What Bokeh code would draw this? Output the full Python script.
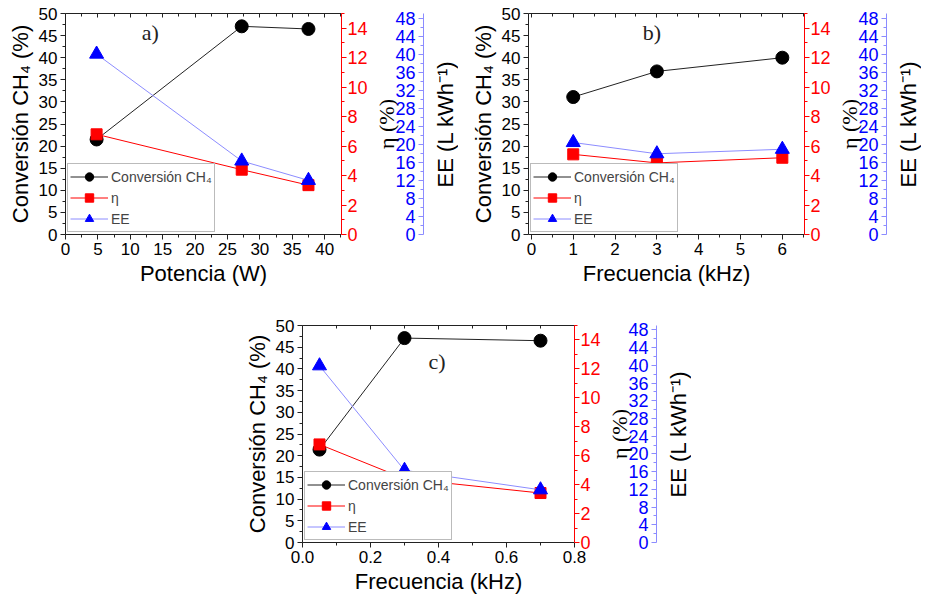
from bokeh.plotting import figure
from bokeh.layouts import column, row
from bokeh.models import (Spacer, Range1d, LinearAxis, FixedTicker, Label,
                          Legend, LegendItem, NumeralTickFormatter,
                          CustomJSTickFormatter)
from bokeh.embed import file_html
from bokeh.resources import INLINE

# ---------------- data ----------------
# a) Potencia (W)
pot_w = [4.8, 27.2, 37.5]
conv_a = [21.5, 47.1, 46.5]
eta_a = [6.8, 4.4, 3.35]
ee_a = [40.0, 16.3, 12.0]

# b) Frecuencia (kHz)
freq_b = [1.0, 3.0, 6.0]
conv_b = [31.1, 36.9, 40.0]
eta_b = [5.44, 4.86, 5.21]
ee_b = [20.4, 17.9, 18.9]

# c) Frecuencia (kHz)
freq_c = [0.05, 0.3, 0.7]
conv_c = [21.4, 47.1, 46.5]
eta_c = [6.78, 4.41, 3.42]
ee_c = [39.9, 16.3, 11.9]

conv_ticks = list(range(0, 51, 5))
eta_ticks = list(range(0, 15, 2))
ee_ticks = list(range(0, 49, 4))

SANS = "Liberation Sans"
SERIF = "Liberation Serif"
BLUE_LINE = "#8c8cff"
EE_MAX = 49


def style_axis(ax, line_color, label_color, font_size):
    ax.axis_line_color = line_color
    ax.major_tick_line_color = line_color
    ax.minor_tick_line_color = line_color
    ax.major_label_text_color = label_color
    ax.major_label_text_font = SANS
    ax.major_label_text_font_size = font_size
    ax.axis_label_text_color = "black"
    ax.axis_label_text_font = SANS
    ax.axis_label_text_font_size = "22px"
    ax.axis_label_text_font_style = "normal"
    ax.major_tick_out = 5
    ax.major_tick_in = 0
    ax.minor_tick_out = 3
    ax.minor_tick_in = 0
    ax.major_label_standoff = 3
    ax.axis_label_standoff = 3


def label_axis(ax, text, font, size, standoff):
    ax.ticker = FixedTicker(ticks=[])
    ax.axis_line_color = None
    ax.major_tick_out = 0
    ax.major_tick_in = 0
    ax.minor_tick_out = 0
    ax.minor_tick_in = 0
    ax.major_label_standoff = 0
    ax.axis_label = text
    ax.axis_label_text_font = font
    ax.axis_label_text_font_size = size
    ax.axis_label_text_font_style = "normal"
    ax.axis_label_text_color = "black"
    ax.axis_label_standoff = standoff


def aux_fig(fh, top, left):
    f = figure(frame_width=1, frame_height=fh, x_range=Range1d(0, 1),
               y_range=Range1d(0, EE_MAX), output_backend="svg",
               toolbar_location=None, x_axis_location=None,
               min_border_left=left, min_border_top=top, min_border_right=0,
               min_border_bottom=12)
    f.outline_line_color = None
    f.grid.visible = False
    return f


def make_panel(x, conv, eta, ee, xr, xticks, xminor, xlabel, tag, tag_xy,
               fw, fh, left, top, xfmt=None):
    p = figure(frame_width=fw, frame_height=fh, x_range=Range1d(*xr),
               y_range=Range1d(0, 50), output_backend="svg",
               toolbar_location=None, min_border_left=left,
               min_border_top=top, min_border_right=0, min_border_bottom=0)
    p.outline_line_color = None
    p.grid.visible = False
    p.extra_y_ranges = {"eta": Range1d(0, 15), "ee": Range1d(0, EE_MAX)}

    # left axis
    ya = p.yaxis[0]
    ya.ticker = FixedTicker(ticks=conv_ticks,
                            minor_ticks=[v + 2.5 for v in conv_ticks[:-1]])
    style_axis(ya, "#222222", "black", "17px")
    ya.axis_label = "Conversión CH₄ (%)"

    # bottom axis
    xa = p.xaxis[0]
    xa.ticker = FixedTicker(ticks=xticks, minor_ticks=xminor)
    style_axis(xa, "#222222", "black", "17px")
    xa.axis_label = xlabel
    if xfmt:
        xa.formatter = NumeralTickFormatter(format=xfmt)

    # top axis (ticks only)
    ta = LinearAxis(ticker=FixedTicker(ticks=xticks, minor_ticks=xminor),
                    formatter=CustomJSTickFormatter(code="return ''"))
    ta.axis_line_color = "#222222"
    ta.major_tick_line_color = "#222222"
    ta.minor_tick_line_color = "#222222"
    ta.major_tick_in = 4
    ta.major_tick_out = 0
    ta.minor_tick_in = 3
    ta.minor_tick_out = 0
    ta.major_label_standoff = 0
    p.add_layout(ta, "above")

    # red axis
    ra = LinearAxis(y_range_name="eta",
                    ticker=FixedTicker(ticks=eta_ticks,
                                       minor_ticks=[v + 1 for v in eta_ticks]))
    style_axis(ra, "red", "red", "18px")
    ra.major_label_standoff = 1
    p.add_layout(ra, "right")

    # series
    l1 = p.line(x, conv, line_color="#222222", line_width=1)
    m1 = p.scatter(x, conv, marker="circle", size=13, fill_color="black",
                   line_color="black")
    l2 = p.line(x, eta, line_color="red", line_width=1, y_range_name="eta")
    m2 = p.scatter(x, eta, marker="square", size=11, fill_color="red",
                   line_color="red", y_range_name="eta")
    l3 = p.line(x, ee, line_color=BLUE_LINE, line_width=1, y_range_name="ee")
    m3 = p.scatter(x, ee, marker="triangle", size=14, fill_color="blue",
                   line_color="blue", y_range_name="ee")

    legend = Legend(items=[
        LegendItem(label="Conversión CH₄", renderers=[l1, m1]),
        LegendItem(label="η", renderers=[l2, m2]),
        LegendItem(label="EE", renderers=[l3, m3]),
    ], location="bottom_left", margin=2, padding=2, spacing=-2,
        label_text_font=SANS, label_text_font_size="14px",
        glyph_width=38, glyph_height=21, label_height=16, label_standoff=3,
        border_line_color="#777777", background_fill_color="white",
        background_fill_alpha=1.0)
    p.add_layout(legend)

    p.add_layout(Label(x=tag_xy[0], y=tag_xy[1], text=tag,
                       text_align="center", text_baseline="middle",
                       text_font=SERIF, text_font_size="22px",
                       text_color="#222222"))

    # η label + blue EE axis
    f1 = aux_fig(fh, top, 0)
    ba = f1.yaxis[0]
    ba.ticker = FixedTicker(ticks=ee_ticks,
                            minor_ticks=[v + 2 for v in ee_ticks[:-1]])
    style_axis(ba, BLUE_LINE, "blue", "18px")
    lab1 = LinearAxis()
    label_axis(lab1, "η (%)", SERIF, "22px", -6)
    f1.add_layout(lab1, "left")

    # EE label
    f2 = aux_fig(fh, top, 33)
    label_axis(f2.yaxis[0], "EE (L kWh⁻¹)", SANS, "22px", 0)

    return [p, f1, f2]


pa = make_panel(pot_w, conv_a, eta_a, ee_a, (0, 42.6),
                list(range(0, 41, 5)), [v + 2.5 for v in range(0, 41, 5)],
                "Potencia (W)", "a)", (13.1, 45.8), 276, 221, 65, 13)
pb = make_panel(freq_b, conv_b, eta_b, ee_b, (-0.07, 6.53),
                list(range(0, 7)), [v + 0.5 for v in range(0, 7)],
                "Frecuencia (kHz)", "b)", (2.88, 45.6), 276, 221, 70, 13)
pc = make_panel(freq_c, conv_c, eta_c, ee_c, (0, 0.8),
                [0, 0.2, 0.4, 0.6, 0.8], [0.1, 0.3, 0.5, 0.7],
                "Frecuencia (kHz)", "c)", (0.396, 41.7), 272, 217, 59, 37,
                xfmt="0.0")

layout = column(row(*pa, *pb),
                row(Spacer(width=241, height=10), *pc))
open("out.html", "w").write(file_html(layout, INLINE))
